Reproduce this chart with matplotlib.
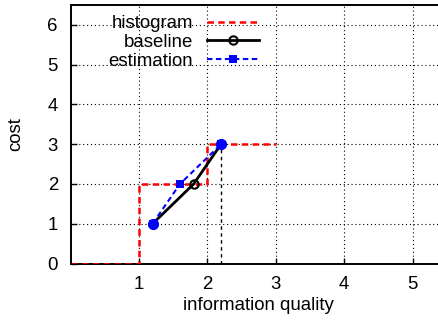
import matplotlib.pyplot as plt

plt.rcParams['font.family'] = ['Liberation Sans', 'DejaVu Sans']
plt.rcParams['font.size'] = 13.4

# histogram steps (left edges + final right edge)
hist_x = [0, 1, 2, 3]
hist_y = [0, 2, 3, 3]

# baseline and estimation curves
base_x = [1.2, 1.8, 2.2]
base_y = [1, 2, 3]
est_x = [1.2, 1.6, 2.2]
est_y = [1, 2, 3]

# shared end points
end_x = [1.2, 2.2]
end_y = [1, 3]

marker_x = 2.2
marker_y = 3

xticks = [1, 2, 3, 4, 5]
yticks = [0, 1, 2, 3, 4, 5, 6]

fig = plt.figure(figsize=(4.39, 3.25), dpi=100)
ax = fig.add_axes([70.5 / 439, 61.5 / 325, 376.3 / 439, 258.4 / 325])

ax.plot(hist_x, hist_y, drawstyle='steps-post', color='#ff0000', lw=1.8,
        linestyle=(0, (2.6, 1.7)), label='histogram', zorder=3)
ax.plot(base_x, base_y, color='black', lw=2.0, marker='o', markersize=6,
        markerfacecolor='none', markeredgewidth=1.5, label='baseline', zorder=4)
ax.plot(est_x, est_y, color='#0000ff', lw=1.5, linestyle=(0, (2.6, 1.7)), marker='s',
        markersize=6, markeredgewidth=0, label='estimation', zorder=5)
ax.plot(end_x, end_y, linestyle='none', marker='o', markersize=8,
        color='#0000ff', markeredgewidth=0, zorder=6)
ax.vlines(marker_x, 0, marker_y, colors='black', lw=1, linestyles=(0, (2.5, 2.5)), zorder=3)

ax.set_xlim(0, 5.5)
ax.set_ylim(0, 6.5)
ax.set_xticks(xticks)
ax.set_yticks(yticks)
ax.grid(True, color='black', linestyle=(0, (1, 2.5)), lw=0.8)
ax.tick_params(direction='in', length=4.5, width=1, pad=9)
for s in ax.spines.values():
    s.set_linewidth(1.4)

ax.set_xlabel('information quality', labelpad=3)
ax.set_ylabel('cost', labelpad=17)

ax.legend(loc='upper right', bbox_to_anchor=(259 / 439, 1 - 15 / 325),
          bbox_transform=fig.transFigure, frameon=False, markerfirst=False,
          borderpad=0, handlelength=2.8, handletextpad=0.75, labelspacing=0.1,
          borderaxespad=0)

fig.savefig('out.png', dpi=100)
